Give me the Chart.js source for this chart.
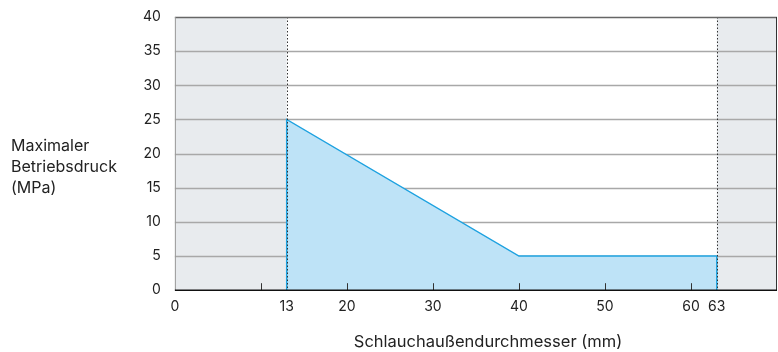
<!DOCTYPE html>
<html>
<head>
<meta charset="utf-8">
<script src="https://cdn.jsdelivr.net/npm/chart.js@4.4.1/dist/chart.umd.min.js"></script>
<style>
  html, body { margin: 0; padding: 0; background: #ffffff; }
  #wrap { width: 778px; height: 352px; position: relative; }
</style>
</head>
<body>
<div id="wrap"><canvas id="c" width="778" height="352"></canvas></div>
<script>
// ---- data ----
const outerDiameter = [13, 13, 40, 63, 63];      // mm
const maxPressure   = [0, 25, 5, 5, 0];          // MPa
const xTickValues   = [0, 10, 13, 20, 30, 40, 50, 60, 63, 70];
const xTickHidden   = [10, 70];
const yTickValues   = [0, 5, 10, 15, 20, 25, 30, 35, 40];
const shadedRanges  = [[0, 13], [63, 70]];
const limitLines    = [13, 63];
const minorTicks    = [10, 20, 30, 40, 50, 60];
const yTitleLines   = ['Maximaler', 'Betriebsdruck', '(MPa)'];
const xTitle        = 'Schlauchaußendurchmesser (mm)';

const FONT = 'Inter, "Noto Sans", "DejaVu Sans", sans-serif';

const points = outerDiameter.map((x, i) => ({ x: x, y: maxPressure[i] }));

const decor = {
  id: 'decor',
  beforeDatasetsDraw(chart) {
    const { ctx, chartArea: a, scales: { x, y } } = chart;
    ctx.save();
    ctx.fillStyle = '#e8ebee';
    shadedRanges.forEach(([s, e]) => {
      const x0 = x.getPixelForValue(s), x1 = x.getPixelForValue(e);
      ctx.fillRect(x0, a.top, x1 - x0, a.bottom - a.top);
    });
    ctx.strokeStyle = '#a8a8a8';
    ctx.lineWidth = 1.5;
    yTickValues.forEach(v => {
      if (v === 0 || v === 40) return;
      const py = Math.round(y.getPixelForValue(v)) + 0.5;
      ctx.beginPath(); ctx.moveTo(a.left, py); ctx.lineTo(a.right, py); ctx.stroke();
    });
    ctx.restore();
  },
  afterDatasetsDraw(chart) {
    const { ctx, chartArea: a, scales: { x, y } } = chart;
    ctx.save();
    ctx.strokeStyle = '#333333';
    ctx.lineWidth = 1;
    ctx.setLineDash([1.5, 2]);
    limitLines.forEach(v => {
      const px = Math.round(x.getPixelForValue(v)) + 0.5;
      ctx.beginPath(); ctx.moveTo(px, a.top); ctx.lineTo(px, a.bottom); ctx.stroke();
    });
    ctx.setLineDash([]);
    ctx.strokeStyle = '#333333';
    ctx.lineWidth = 1;
    minorTicks.forEach(v => {
      const px = Math.round(x.getPixelForValue(v)) + 0.5;
      ctx.beginPath(); ctx.moveTo(px, a.bottom); ctx.lineTo(px, a.bottom - 7); ctx.stroke();
    });
    ctx.strokeStyle = '#666666';
    ctx.lineWidth = 1.5;
    ctx.beginPath(); ctx.moveTo(a.left, a.top + 0.5); ctx.lineTo(a.right, a.top + 0.5); ctx.stroke();
    ctx.strokeStyle = '#999999';
    ctx.lineWidth = 1;
    ctx.beginPath(); ctx.moveTo(a.left + 0.5, a.top); ctx.lineTo(a.left + 0.5, a.bottom); ctx.stroke();
    ctx.strokeStyle = '#333333';
    ctx.beginPath(); ctx.moveTo(a.right - 0.5, a.top); ctx.lineTo(a.right - 0.5, a.bottom); ctx.stroke();
    ctx.strokeStyle = '#111111';
    ctx.lineWidth = 1.5;
    ctx.beginPath(); ctx.moveTo(a.left, a.bottom); ctx.lineTo(a.right, a.bottom); ctx.stroke();
    ctx.fillStyle = '#222222';
    ctx.font = '16px ' + FONT;
    ctx.textAlign = 'left';
    ctx.textBaseline = 'middle';
    yTitleLines.forEach((t, i) => ctx.fillText(t, 11, 146 + i * 21));
    ctx.font = '16.5px ' + FONT;
    ctx.textAlign = 'center';
    ctx.fillText(xTitle, 488, 342);
    ctx.restore();
  }
};

new Chart(document.getElementById('c'), {
  type: 'line',
  data: {
    datasets: [{
      data: points,
      borderColor: '#1ea2e0',
      borderWidth: 1.5,
      backgroundColor: '#bee3f7',
      fill: 'origin',
      pointRadius: 0,
      tension: 0
    }]
  },
  options: {
    responsive: false,
    animation: false,
    layout: { padding: { left: 143, top: 17, right: 1, bottom: 37 } },
    plugins: { legend: { display: false }, tooltip: { enabled: false } },
    scales: {
      x: {
        type: 'linear',
        min: 0, max: 70,
        afterBuildTicks: (s) => { s.ticks = xTickValues.map(v => ({ value: v })); },
        ticks: {
          autoSkip: false,
          maxRotation: 0,
          padding: 0,
          color: '#222222',
          font: { family: FONT, size: 14 },
          callback: (v) => xTickHidden.includes(v) ? '' : String(v)
        },
        grid: { display: false, drawTicks: true, tickLength: 8 },
        border: { display: false }
      },
      y: {
        min: 0, max: 40,
        afterBuildTicks: (s) => { s.ticks = yTickValues.map(v => ({ value: v })); },
        ticks: {
          padding: 0,
          color: '#222222',
          font: { family: FONT, size: 14 }
        },
        grid: { display: false, drawTicks: true, tickLength: 14 },
        border: { display: false }
      }
    }
  },
  plugins: [decor]
});
</script>
</body>
</html>
